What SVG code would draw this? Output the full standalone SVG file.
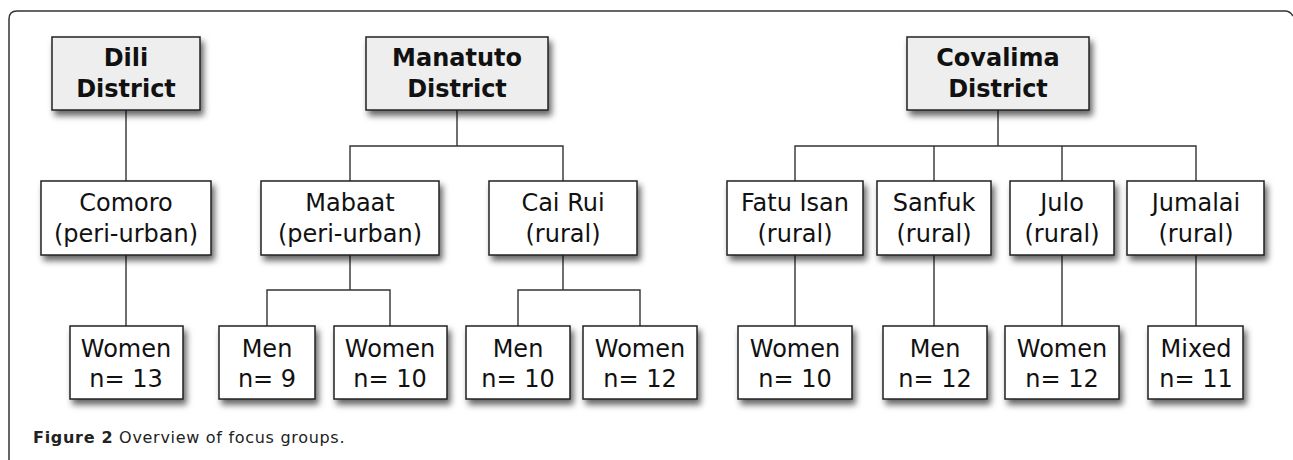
<svg xmlns="http://www.w3.org/2000/svg" width="1293" height="460" viewBox="0 0 1293 460">
<defs>
<filter id="sh" x="-20%" y="-20%" width="150%" height="160%">
<feDropShadow dx="3" dy="5" stdDeviation="3" flood-color="#000" flood-opacity="0.6"/>
</filter>
</defs>
<style>
.box{fill:#fff;stroke:#222;stroke-width:1.5;filter:url(#sh)}
.top{fill:#eeeeee}
.t{font-family:"DejaVu Sans",Verdana,sans-serif;font-size:24px;fill:#111;text-anchor:middle}
.b{font-weight:bold}
.ln{fill:none;stroke:#333;stroke-width:1.4}
.cap{font-family:"DejaVu Sans",Verdana,sans-serif;font-size:16px;fill:#222;letter-spacing:0.7px}
</style>
<rect width="1293" height="460" fill="#fff"/>
<path d="M9,460 V19 Q9,11 17,11 H1285 Q1290,11 1293,16" fill="none" stroke="#333" stroke-width="1.5"/>

<g id="connectors">
<path class="ln" d="M126,110 V181 M126,255 V326"/>
<path class="ln" d="M457,110 V146 M350,181 V146 H563 V181"/>
<path class="ln" d="M350,255 V290 M267,326 V290 H390 V326"/>
<path class="ln" d="M563,255 V290 M518,326 V290 H640 V326"/>
<path class="ln" d="M998,110 V146 M795,181 V146 H1196 V181 M934,146 V181 M1062,146 V181"/>
<path class="ln" d="M795,255 V326 M934,255 V326 M1062,255 V326 M1196,255 V326"/>
</g>

<g id="dili"><rect class="box top" x="52" y="37" width="148" height="73"/><text class="t b" x="126" y="66">Dili</text><text class="t b" x="126" y="97">District</text></g>
<g id="manatuto"><rect class="box top" x="366" y="37" width="182" height="73"/><text class="t b" x="457" y="66">Manatuto</text><text class="t b" x="457" y="97">District</text></g>
<g id="covalima"><rect class="box top" x="907" y="37" width="182" height="73"/><text class="t b" x="998" y="66">Covalima</text><text class="t b" x="998" y="97">District</text></g>

<g id="comoro"><rect class="box" x="41" y="181" width="170" height="74"/><text class="t" x="126" y="211">Comoro</text><text class="t" x="126" y="242">(peri-urban)</text></g>
<g id="mabaat"><rect class="box" x="261" y="181" width="178" height="74"/><text class="t" x="350" y="211">Mabaat</text><text class="t" x="350" y="242">(peri-urban)</text></g>
<g id="cairui"><rect class="box" x="489" y="181" width="148" height="74"/><text class="t" x="563" y="211">Cai Rui</text><text class="t" x="563" y="242">(rural)</text></g>
<g id="fatuisan"><rect class="box" x="727" y="181" width="136" height="74"/><text class="t" x="795" y="211">Fatu Isan</text><text class="t" x="795" y="242">(rural)</text></g>
<g id="sanfuk"><rect class="box" x="877" y="181" width="114" height="74"/><text class="t" x="934" y="211">Sanfuk</text><text class="t" x="934" y="242">(rural)</text></g>
<g id="julo"><rect class="box" x="1010" y="181" width="104" height="74"/><text class="t" x="1062" y="211">Julo</text><text class="t" x="1062" y="242">(rural)</text></g>
<g id="jumalai"><rect class="box" x="1127" y="181" width="137" height="74"/><text class="t" x="1196" y="211">Jumalai</text><text class="t" x="1196" y="242">(rural)</text></g>

<g id="comoro-women"><rect class="box" x="70" y="326" width="113" height="73"/><text class="t" x="126" y="357">Women</text><text class="t" x="126" y="387">n= 13</text></g>
<g id="mabaat-men"><rect class="box" x="219" y="326" width="96" height="73"/><text class="t" x="267" y="357">Men</text><text class="t" x="267" y="387">n= 9</text></g>
<g id="mabaat-women"><rect class="box" x="334" y="326" width="113" height="73"/><text class="t" x="390" y="357">Women</text><text class="t" x="390" y="387">n= 10</text></g>
<g id="cairui-men"><rect class="box" x="466" y="326" width="104" height="73"/><text class="t" x="518" y="357">Men</text><text class="t" x="518" y="387">n= 10</text></g>
<g id="cairui-women"><rect class="box" x="583" y="326" width="114" height="73"/><text class="t" x="640" y="357">Women</text><text class="t" x="640" y="387">n= 12</text></g>
<g id="fatuisan-women"><rect class="box" x="738" y="326" width="114" height="73"/><text class="t" x="795" y="357">Women</text><text class="t" x="795" y="387">n= 10</text></g>
<g id="sanfuk-men"><rect class="box" x="883" y="326" width="104" height="73"/><text class="t" x="935" y="357">Men</text><text class="t" x="935" y="387">n= 12</text></g>
<g id="julo-women"><rect class="box" x="1005" y="326" width="114" height="73"/><text class="t" x="1062" y="357">Women</text><text class="t" x="1062" y="387">n= 12</text></g>
<g id="jumalai-mixed"><rect class="box" x="1148" y="326" width="95" height="73"/><text class="t" x="1196" y="357">Mixed</text><text class="t" x="1196" y="387">n= 11</text></g>

<text class="cap" x="33" y="443"><tspan font-weight="bold">Figure 2</tspan> Overview of focus groups.</text>
</svg>
